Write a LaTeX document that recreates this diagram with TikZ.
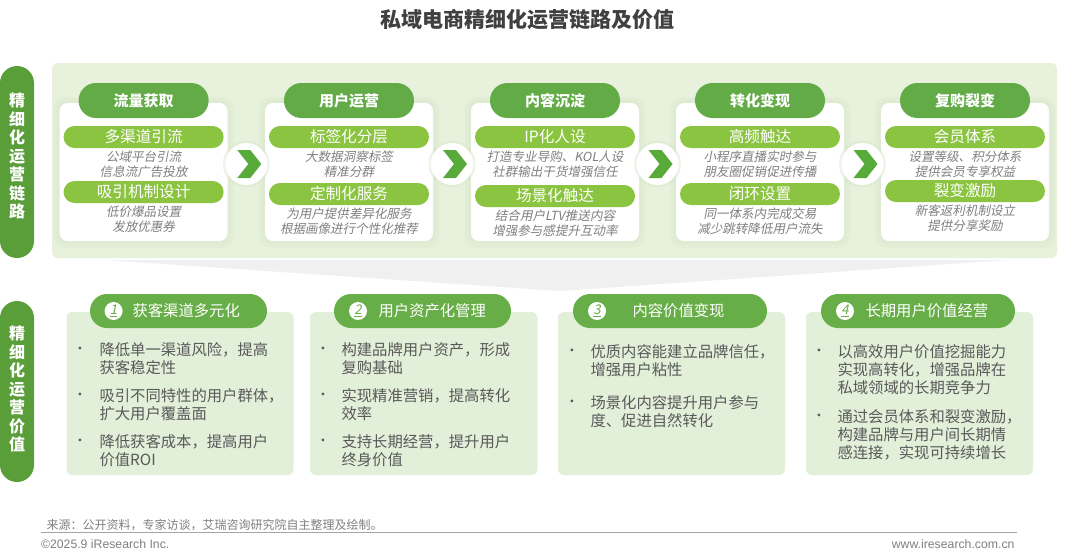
\documentclass[tikz,border=0pt]{standalone}
\usepackage{fontspec}
\setmainfont{Noto Sans CJK SC}
\newfontfamily\cjkslant{Noto Sans CJK SC}[FakeSlant=0.2]
\newfontfamily\webfont{Liberation Sans}

\definecolor{titlegray}{RGB}{64,64,64}
\definecolor{sidegreen}{RGB}{90,158,58}
\definecolor{headgreen}{RGB}{98,171,70}
\definecolor{subgreen}{RGB}{139,196,64}
\definecolor{bandgreen}{RGB}{231,241,220}
\definecolor{halogreen}{RGB}{216,229,203}
\definecolor{chevgreen}{RGB}{88,170,58}
\definecolor{cardgreen}{RGB}{226,239,217}
\definecolor{pillgreen}{RGB}{104,174,72}
\definecolor{notegray}{RGB}{127,127,127}
\definecolor{bodygray}{RGB}{89,89,89}
\definecolor{footgray}{RGB}{128,128,128}
\definecolor{rulegray}{RGB}{166,166,166}
\definecolor{funnelgray}{RGB}{240,240,240}

\newcommand{\setfs}[2]{\fontsize{#1}{#2}\selectfont}

\tikzset{every picture/.style={line width=0.75pt}}
\tikzset{
  band/.style={fill=bandgreen, rounded corners=4.5pt},
  sidepill/.style={fill=sidegreen, rounded corners=12.75pt},
  halo/.style={fill=halogreen, fill opacity=0.3, rounded corners=9pt},
  card/.style={fill=white, rounded corners=6pt},
  headpill/.style={fill=headgreen, rounded corners=13pt},
  subpill/.style={fill=subgreen, rounded corners=8.2pt},
  disc/.style={fill=white},
  chevron/.style={fill=chevgreen},
  valcard/.style={fill=cardgreen, rounded corners=4.5pt},
  valpill/.style={fill=pillgreen, rounded corners=12.75pt},
  sidetxt/.style={inner sep=0pt, text=white, align=center, font=\setfs{12}{13.9}\bfseries},
  headtxt/.style={inner sep=0pt, text=white, font=\setfs{11.25}{13}\bfseries},
  subtxt/.style={inner sep=0pt, text=white, font=\setfs{11.7}{13}},
  notetxt/.style={inner sep=0pt, anchor=north, align=center, text=notegray, font=\cjkslant\setfs{9.4}{11.25}},
  numdot/.style={circle, fill=white, inner sep=0pt, minimum size=13.5pt, text=pillgreen, font=\cjkslant\setfs{10}{10}},
  valtxt/.style={inner sep=0pt, anchor=west, text=white, font=\setfs{11.5}{13}},
  dot/.style={inner sep=0pt, text=bodygray, font=\setfs{10}{10}},
  itemtxt/.style={inner sep=0pt, anchor=north west, align=left, text=bodygray, font=\setfs{11.5}{13.5}},
  foot/.style={inner sep=0pt, text=footgray, font=\setfs{9}{10}},
}

\begin{document}
\begin{tikzpicture}[x=0.75pt,y=0.75pt,yscale=-1,xscale=1]
\fill[white] (0,0) rectangle (1080,558);
\useasboundingbox (0,0) rectangle (1080,558);

% Text Node
\draw (527,20) node (title) [inner sep=0pt, text=titlegray, font=\setfs{15.75}{18}\bfseries] {私域电商精细化运营链路及价值};

%Shape: Funnel
\fill[funnelgray] (105,260) -- (1008,260) -- (560,291) -- cycle;
%Shape: Band
\fill[band] (52,63) rectangle (1057,258);
%Shape: Side pill 1
\fill[sidepill] (0,66) rectangle (34,258);
\draw (17,156) node (side1) [sidetxt] {精\\细\\化\\运\\营\\链\\路};

%Shape: Chain cards
\foreach \cx/\n/\head/\suba/\nota/\notb/\subb/\notc/\notd/\ybtm in {
  143.6/1/流量获取/多渠道引流/公域平台引流/信息流广告投放/吸引机制设计/低价爆品设置/发放优惠券/181,
  349/2/用户运营/标签化分层/大数据洞察标签/精准分群/定制化服务/为用户提供差异化服务/根据画像进行个性化推荐/183,
  555/3/内容沉淀/IP化人设/打造专业导购、KOL人设/社群输出干货增强信任/场景化触达/结合用户LTV推送内容/增强参与感提升互动率/185,
  760/4/转化变现/高频触达/小程序直播实时参与/朋友圈促销促进传播/闭环设置/同一体系内完成交易/减少跳转降低用户流失/183,
  965/5/复购裂变/会员体系/设置等级、积分体系/提供会员专享权益/裂变激励/新客返利机制设立/提供分享奖励/180}{
  \fill[halo] (\cx-90,97) rectangle (\cx+90,248);
  \fill[halo] (\cx-87,100) rectangle (\cx+87,244);
  \fill[card] (\cx-84,103) rectangle (\cx+84,241);
  \fill[headpill] (\cx-65,83) rectangle (\cx+65,118);
  \draw (\cx,100.5) node (hd\n) [headtxt] {\head};
  \fill[subpill] (\cx-80,126) rectangle (\cx+80,148);
  \draw (\cx,137) node (sa\n) [subtxt] {\suba};
  \draw (\cx,150.75) node (na\n) [notetxt] {\nota\\\notb};
  \fill[subpill] (\cx-80,\ybtm) rectangle (\cx+80,\ybtm+22);
  \draw (\cx,\ybtm+11) node (sb\n) [subtxt] {\subb};
  \draw (\cx,\ybtm+24.75) node (nb\n) [notetxt] {\notc\\\notd};
}

%Shape: Chevron discs
\foreach \ax in {246.3,452,657.5,862.5}{
  \fill[halogreen, fill opacity=0.4] (\ax,164) circle [radius=23.5];
  \fill[disc] (\ax,164) circle [radius=21];
  \fill[chevron] (\ax-9,150) -- (\ax+4,150) -- (\ax+15,164) -- (\ax+4,178) -- (\ax-9,178) -- (\ax+2,164) -- cycle;
}

%Shape: Side pill 2
\fill[sidepill] (0,301) rectangle (34,482);
\draw (17,389) node (side2) [sidetxt] {精\\细\\化\\运\\营\\价\\值};

%Shape: Value card 1
\fill[valcard] (66.5,312) rectangle (293.5,475);
\fill[valpill] (90,294) rectangle (267,328);
\draw (113.6,311) node (num1) [numdot] {\underline{1}};
\draw (132,311) node (vt1) [valtxt] {获客渠道多元化};
\foreach \y/\t [count=\j] in {350/{降低单一渠道风险，提高\\获客稳定性},396/{吸引不同特性的用户群体，\\扩大用户覆盖面},442/{降低获客成本，提高用户\\价值ROI}}{
  \draw (80,\y) node (bu1\j) [dot] {\textbullet};
  \draw (99,\y-7.65) node (it1\j) [itemtxt] {\t};
}

%Shape: Value card 2
\fill[valcard] (310,312) rectangle (537.5,475);
\fill[valpill] (334,294) rectangle (511,328);
\draw (358,311) node (num2) [numdot] {\underline{2}};
\draw (378,311) node (vt2) [valtxt] {用户资产化管理};
\foreach \y/\t [count=\j] in {350/{构建品牌用户资产，形成\\复购基础},396/{实现精准营销，提高转化\\效率},442/{支持长期经营，提升用户\\终身价值}}{
  \draw (323,\y) node (bu2\j) [dot] {\textbullet};
  \draw (341,\y-7.65) node (it2\j) [itemtxt] {\t};
}

%Shape: Value card 3
\fill[valcard] (558,312) rectangle (785,475);
\fill[valpill] (573,294) rectangle (767,328);
\draw (597,311) node (num3) [numdot] {\underline{3}};
\draw (632,311) node (vt3) [valtxt] {内容价值变现};
\foreach \y/\t [count=\j] in {352/{优质内容能建立品牌信任，\\增强用户粘性},403/{场景化内容提升用户参与\\度、促进自然转化}}{
  \draw (572,\y) node (bu3\j) [dot] {\textbullet};
  \draw (590,\y-7.65) node (it3\j) [itemtxt] {\t};
}

%Shape: Value card 4
\fill[valcard] (806,312) rectangle (1033,475);
\fill[valpill] (821,294) rectangle (1015,328);
\draw (845,311) node (num4) [numdot] {\underline{4}};
\draw (865,311) node (vt4) [valtxt] {长期用户价值经营};
\foreach \y/\t [count=\j] in {352/{以高效用户价值挖掘能力\\实现高转化，增强品牌在\\私域领域的长期竞争力},417/{通过会员体系和裂变激励，\\构建品牌与用户间长期情\\感连接，实现可持续增长}}{
  \draw (819,\y) node (bu4\j) [dot] {\textbullet};
  \draw (837,\y-7.65) node (it4\j) [itemtxt] {\t};
}

% Text Node
\draw (46,525) node (src) [foot, anchor=west] {来源：公开资料，专家访谈，艾瑞咨询研究院自主整理及绘制。};
%Straight Lines
\draw[rulegray] (41,532.5) -- (1017,532.5);
% Text Node
\draw (40.5,544.5) node (copy) [foot, anchor=west, font=\webfont\setfs{9.2}{10}] {©2025.9 iResearch Inc.};
% Text Node
\draw (1015,544.5) node (web) [foot, anchor=east, font=\webfont\setfs{9.2}{10}] {www.iresearch.com.cn};

\end{tikzpicture}
\end{document}
